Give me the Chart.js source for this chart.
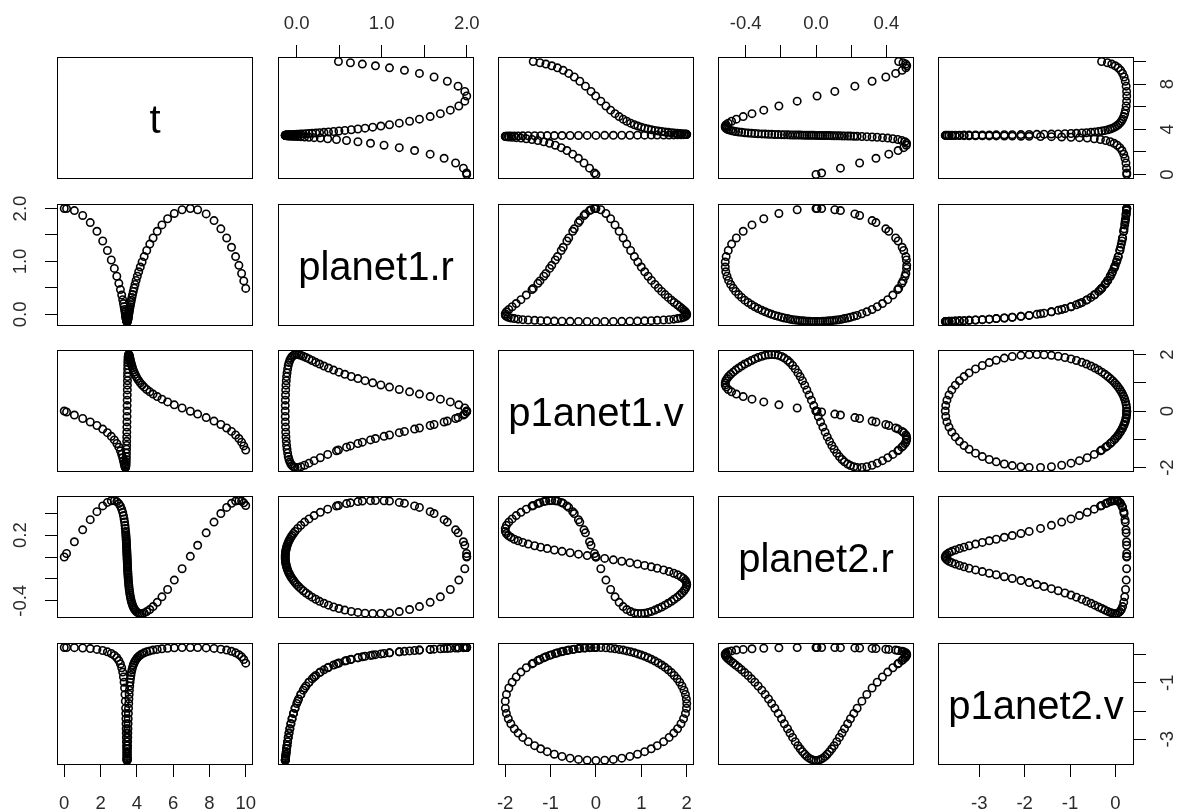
<!DOCTYPE html>
<html>
<head>
<meta charset="utf-8">
<title>orbit pairs</title>
<script src="https://cdn.jsdelivr.net/npm/chart.js@4.4.0/dist/chart.umd.min.js"></script>
<style>
  body { margin: 0; background: #fff; }
  #grid { position: relative; width: 1186px; height: 812px; overflow: hidden; background: #fff; }
  #grid canvas { position: absolute; }
</style>
</head>
<body>
<div id="grid"></div>
<script>
// Solver output, one entry per step (steps shrink near closest approach)
const t = [0.000, 0.127, 0.558, 1.016, 1.432, 1.800, 2.119, 2.377, 2.592, 2.760,
  2.896, 3.007, 3.095, 3.165, 3.220, 3.262, 3.296, 3.323, 3.346, 3.364,
  3.380, 3.389, 3.398, 3.405, 3.412, 3.417, 3.422, 3.427, 3.432, 3.436,
  3.440, 3.443, 3.447, 3.451, 3.454, 3.458, 3.461,
  3.464, 3.468, 3.471, 3.475, 3.479, 3.482, 3.486, 3.490, 3.495, 3.500,
  3.505, 3.510, 3.517, 3.524, 3.533, 3.542, 3.552, 3.563, 3.576, 3.590,
  3.608, 3.626, 3.647, 3.671, 3.697, 3.729, 3.763, 3.804, 3.848, 3.900,
  3.960, 4.026, 4.102, 4.189, 4.289, 4.403, 4.545, 4.714, 4.895, 5.122,
  5.382, 5.695, 6.063, 6.493,
  6.946, 7.351, 7.820, 8.252, 8.629, 8.949, 9.216, 9.441, 9.623, 9.772, 9.892, 10.000];

const planet1R = [2.000, 1.998, 1.961, 1.869, 1.734, 1.570, 1.387, 1.207, 1.028, 0.869,
  0.721, 0.587, 0.469, 0.366, 0.279, 0.206, 0.146, 0.094, 0.050, 0.013,
  -0.018, -0.036, -0.053, -0.067, -0.079, -0.089, -0.098, -0.105, -0.112, -0.117,
  -0.121, -0.125, -0.128, -0.130, -0.132, -0.133, -0.133,
  -0.133, -0.132, -0.130, -0.128, -0.125, -0.121, -0.117, -0.112, -0.105, -0.098,
  -0.089, -0.079, -0.067, -0.053, -0.036, -0.018, 0.002, 0.024, 0.050, 0.078,
  0.111, 0.146, 0.183, 0.226, 0.270, 0.322, 0.375, 0.435, 0.498, 0.567,
  0.643, 0.721, 0.805, 0.895, 0.991, 1.092, 1.207, 1.328, 1.444, 1.570,
  1.690, 1.807, 1.907, 1.977,
  2.000, 1.977, 1.898, 1.772, 1.616, 1.444, 1.268, 1.092, 0.927, 0.773, 0.633, 0.492];

const planet1V = [0.000, -0.032, -0.141, -0.263, -0.386, -0.511, -0.639, -0.764, -0.895, -1.021,
  -1.149, -1.279, -1.408, -1.534, -1.651, -1.756, -1.845, -1.918, -1.971, -1.997,
  -1.994, -1.972, -1.930, -1.874, -1.798, -1.714, -1.612, -1.491, -1.350, -1.218,
  -1.073, -0.916, -0.747, -0.569, -0.384, -0.193, 0.000,
  0.193, 0.384, 0.569, 0.747, 0.916, 1.073, 1.218, 1.350, 1.491, 1.612,
  1.714, 1.798, 1.874, 1.930, 1.972, 1.994, 2.000, 1.992, 1.971, 1.939,
  1.895, 1.845, 1.790, 1.724, 1.663, 1.592, 1.522, 1.448, 1.375, 1.300,
  1.223, 1.149, 1.074, 0.999, 0.923, 0.847, 0.764, 0.679, 0.599, 0.511,
  0.421, 0.324, 0.220, 0.108,
  -0.006, -0.108, -0.231, -0.355, -0.477, -0.599, -0.721, -0.847, -0.973, -1.102, -1.233, -1.381];

const planet2R = [0.000, 0.032, 0.139, 0.248, 0.341, 0.414, 0.467, 0.499, 0.514, 0.515,
  0.506, 0.488, 0.465, 0.437, 0.408, 0.378, 0.348, 0.319, 0.289, 0.261,
  0.234, 0.215, 0.196, 0.180, 0.162, 0.148, 0.133, 0.118, 0.103, 0.090,
  0.077, 0.064, 0.052, 0.039, 0.026, 0.013, 0.000,
  -0.013, -0.026, -0.039, -0.052, -0.064, -0.077, -0.090, -0.103, -0.118, -0.133,
  -0.148, -0.162, -0.180, -0.196, -0.215, -0.234, -0.252, -0.270, -0.289, -0.308,
  -0.329, -0.348, -0.367, -0.386, -0.405, -0.423, -0.440, -0.457, -0.471, -0.485,
  -0.497, -0.506, -0.513, -0.516, -0.516, -0.511, -0.499, -0.480, -0.453, -0.414,
  -0.364, -0.297, -0.211, -0.107,
  0.006, 0.107, 0.221, 0.319, 0.397, 0.453, 0.490, 0.511, 0.516, 0.511, 0.495, 0.470];

const planet2V = [0.250, 0.250, 0.245, 0.233, 0.212, 0.184, 0.145, 0.098, 0.039, -0.030,
  -0.113, -0.213, -0.330, -0.466, -0.621, -0.793, -0.978, -1.184, -1.410, -1.650,
  -1.901, -2.082, -2.273, -2.448, -2.626, -2.780, -2.933, -3.083, -3.225, -3.336,
  -3.437, -3.528, -3.605, -3.667, -3.713, -3.740, -3.750,
  -3.740, -3.713, -3.667, -3.605, -3.528, -3.437, -3.336, -3.225, -3.083, -2.933,
  -2.780, -2.626, -2.448, -2.273, -2.082, -1.901, -1.731, -1.573, -1.410, -1.261,
  -1.112, -0.978, -0.859, -0.739, -0.639, -0.540, -0.453, -0.370, -0.298, -0.230,
  -0.168, -0.113, -0.063, -0.017, 0.024, 0.062, 0.098, 0.131, 0.158, 0.184,
  0.205, 0.224, 0.238, 0.247,
  0.250, 0.247, 0.237, 0.218, 0.192, 0.158, 0.115, 0.062, -0.003, -0.081, -0.175, -0.304];

const varNames = ['t', 'planet1.r', 'p1anet1.v', 'planet2.r', 'p1anet2.v'];

// tick positions per variable
const tTicks = [0, 2, 4, 6, 8, 10];
const planet1RTicks = [0, 0.5, 1, 1.5, 2];
const planet1VTicks = [-2, -1, 0, 1, 2];
const planet2RTicks = [-0.4, -0.2, 0, 0.2, 0.4];
const planet2VTicks = [-3, -2, -1, 0];

// labels on horizontal axes (top/bottom)
const tLabelsX = ['0', '2', '4', '6', '8', '10'];
const planet1RLabelsX = ['0.0', '', '1.0', '', '2.0'];
const planet1VLabelsX = ['-2', '-1', '0', '1', '2'];
const planet2RLabelsX = ['-0.4', '', '0.0', '', '0.4'];
const planet2VLabelsX = ['-3', '-2', '-1', '0'];

// labels on vertical axes (left/right)
const tLabelsY = ['0', '', '4', '', '8', ''];
const planet1RLabelsY = ['0.0', '', '1.0', '', '2.0'];
const planet1VLabelsY = ['-2', '', '0', '', '2'];
const planet2RLabelsY = ['-0.4', '', '', '0.2', ''];
const planet2VLabelsY = ['-3', '', '-1', ''];

const columns = [t, planet1R, planet1V, planet2R, planet2V];
const tickValues = [tTicks, planet1RTicks, planet1VTicks, planet2RTicks, planet2VTicks];
const labelsX = [tLabelsX, planet1RLabelsX, planet1VLabelsX, planet2RLabelsX, planet2VLabelsX];
const labelsY = [tLabelsY, planet1RLabelsY, planet1VLabelsY, planet2RLabelsY, planet2VLabelsY];

// panel layout
const MARGIN = 50;
const BOX_W = 196;
const BOX_H = 122;
const boxLeft = [57, 278, 498, 718, 938];
const boxTop = [57, 204, 350, 496, 643];
const LABEL_FONT = 18.5;
const NAME_FONT = 40;
const FONT_FAMILY = '"Liberation Sans", Arial, Helvetica, sans-serif';

// data range plus 4% on each side
function paddedRange(values) {
    const lo = Math.min(...values);
    const hi = Math.max(...values);
    const pad = (hi - lo) * 0.04;
    return [lo - pad, hi + pad];
}

function axisOptions(k, position, shown, horizontal) {
    const [min, max] = paddedRange(columns[k]);
    return {
        type: 'linear',
        position: position,
        display: shown,
        min: min,
        max: max,
        afterBuildTicks: scale => {
            scale.ticks = tickValues[k].map(v => ({ value: v }));
        },
        afterFit: scale => {
            if (!shown) return;
            if (horizontal) scale.height = MARGIN;
            else scale.width = MARGIN;
        },
        grid: {
            display: true,
            drawOnChartArea: false,
            drawTicks: true,
            tickLength: 12,
            color: '#000',
            tickColor: '#000',
            lineWidth: 1,
            tickWidth: 1
        },
        border: { display: false },
        ticks: { display: false }
    };
}

// box, diagonal names and tick labels
const panelFrame = {
    id: 'panelFrame',
    afterDraw(chart, args, opts) {
        const ctx = chart.ctx;
        const a = chart.chartArea;
        const i = opts.row;
        const j = opts.col;
        ctx.save();
        ctx.strokeStyle = '#000';
        ctx.lineWidth = 1;
        ctx.strokeRect(a.left + 0.5, a.top + 0.5, a.right - a.left - 1, a.bottom - a.top - 1);

        if (i === j) {
            ctx.fillStyle = '#000';
            ctx.font = NAME_FONT + 'px ' + FONT_FAMILY;
            ctx.textAlign = 'center';
            ctx.textBaseline = 'alphabetic';
            ctx.fillText(varNames[i], (a.left + a.right) / 2, (a.top + a.bottom) / 2 + 15);
        }

        ctx.fillStyle = '#2a2a2a';
        ctx.font = LABEL_FONT + 'px ' + FONT_FAMILY;
        ctx.textAlign = 'center';
        ctx.textBaseline = 'alphabetic';
        const half = LABEL_FONT * 0.36;

        if (opts.top || opts.bottom) {
            const xScale = chart.scales.x;
            const y = opts.top ? a.top - 34.5 : a.bottom + 37.5;
            labelsX[j].forEach((lab, k) => {
                if (!lab) return;
                ctx.fillText(lab, xScale.getPixelForValue(tickValues[j][k]), y + half);
            });
        }
        if (opts.left || opts.right) {
            const yScale = chart.scales.y;
            const x = opts.left ? a.left - 37.5 : a.right + 32;
            labelsY[i].forEach((lab, k) => {
                if (!lab) return;
                ctx.save();
                ctx.translate(x, yScale.getPixelForValue(tickValues[i][k]));
                ctx.rotate(-Math.PI / 2);
                ctx.fillText(lab, 0, half);
                ctx.restore();
            });
        }
        ctx.restore();
    }
};

function makePanel(i, j) {
    const grid = document.getElementById('grid');
    const canvas = document.createElement('canvas');
    const w = BOX_W + 2 * MARGIN;
    const h = BOX_H + 2 * MARGIN;
    canvas.width = w;
    canvas.height = h;
    canvas.style.width = w + 'px';
    canvas.style.height = h + 'px';
    canvas.style.left = (boxLeft[j] - MARGIN) + 'px';
    canvas.style.top = (boxTop[i] - MARGIN) + 'px';
    grid.appendChild(canvas);

    const top = i === 0 && j % 2 === 1;
    const bottom = i === 4 && j % 2 === 0;
    const left = j === 0 && i % 2 === 1;
    const right = j === 4 && i % 2 === 0;

    const datasets = [];
    if (i !== j) {
        datasets.push({
            data: columns[j].map((v, k) => ({ x: v, y: columns[i][k] })),
            showLine: false,
            pointStyle: 'circle',
            pointRadius: 3.7,
            pointBorderWidth: 1.6,
            borderColor: '#000',
            backgroundColor: 'rgba(0,0,0,0)',
            pointBorderColor: '#000',
            pointBackgroundColor: 'rgba(0,0,0,0)',
            clip: false
        });
    }

    new Chart(canvas, {
        type: 'scatter',
        data: { datasets: datasets },
        options: {
            responsive: false,
            animation: false,
            devicePixelRatio: 1,
            events: [],
            layout: {
                autoPadding: false,
                padding: {
                    left: left ? 0 : MARGIN,
                    right: right ? 0 : MARGIN,
                    top: top ? 0 : MARGIN,
                    bottom: bottom ? 0 : MARGIN
                }
            },
            scales: {
                x: axisOptions(j, top ? 'top' : 'bottom', top || bottom, true),
                y: axisOptions(i, right ? 'right' : 'left', left || right, false)
            },
            plugins: {
                legend: { display: false },
                tooltip: { enabled: false },
                panelFrame: { row: i, col: j, top: top, bottom: bottom, left: left, right: right }
            }
        },
        plugins: [panelFrame]
    });
}

for (let i = 0; i < 5; i++) {
    for (let j = 0; j < 5; j++) {
        makePanel(i, j);
    }
}
</script>
</body>
</html>
